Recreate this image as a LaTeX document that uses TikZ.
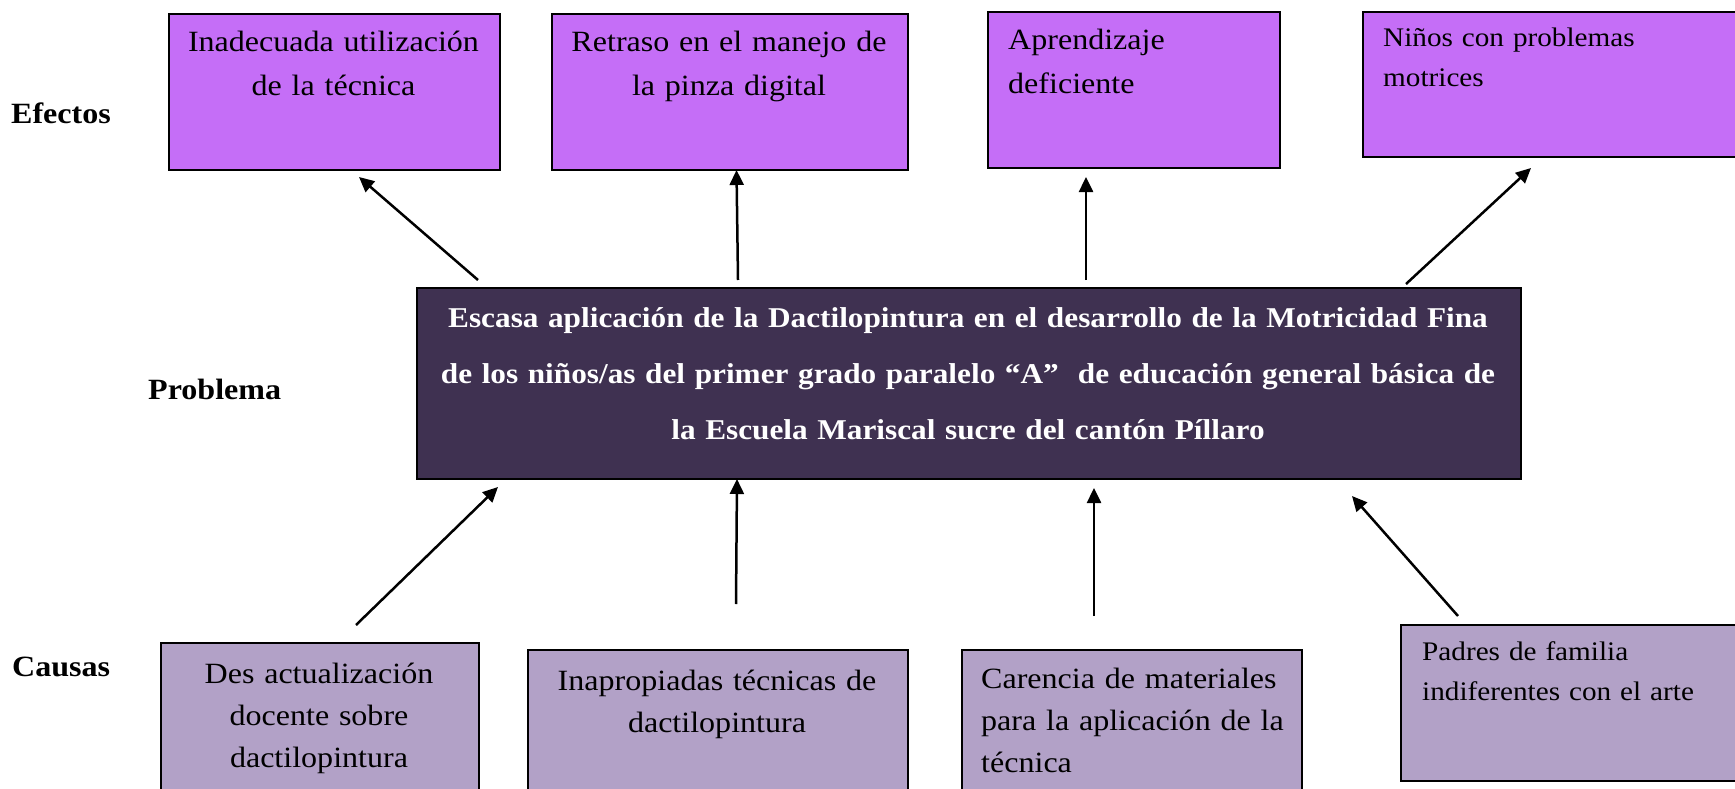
\documentclass[tikz,border=0pt]{standalone}
\usepackage{fontspec}
\setmainfont[FakeStretch=1.09]{Liberation Serif}
\usetikzlibrary{arrows.meta}
\definecolor{effc}{HTML}{C56EF7}
\definecolor{probc}{HTML}{3F3151}
\definecolor{causec}{HTML}{B2A1C7}
\begin{document}
\begin{tikzpicture}[x=1pt,y=-1pt,
  basebox/.style={draw=black, line width=2pt, inner sep=0pt, anchor=north west},
  effbox/.style={basebox, fill=effc},
  probbox/.style={basebox, fill=probc},
  causebox/.style={basebox, fill=causec},
  txt/.style={inner sep=0pt, font=\fontsize{29.4}{44}\selectfont},
  txtb/.style={inner sep=0pt, font=\fontsize{29.4}{42}\selectfont},
  txts/.style={inner sep=0pt, font=\fontsize{26.8}{40}\selectfont},
  lbl/.style={inner sep=0pt, anchor=base west, font=\fontsize{29.4}{36}\selectfont\bfseries},
  arr/.style={line width=2.5pt, -{Triangle[length=15pt,width=14pt]}}]
\useasboundingbox (0,0) rectangle (1735,789);
\clip (0,0) rectangle (1735,789);
\fill[white] (0,0) rectangle (1735,789);

% effect boxes
\node[effbox, minimum width=331pt, minimum height=156pt] (e1) at (168,13) {};
\node[effbox, minimum width=356pt, minimum height=156pt] (e2) at (551,13) {};
\node[effbox, minimum width=292pt, minimum height=156pt] (e3) at (987,11) {};
\node[effbox, minimum width=380pt, minimum height=145pt] (e4) at (1362,11) {};
\node[txt, text width=330pt, align=center, anchor=base] (te1) at (333.5,52) {Inadecuada utilización\\de la técnica};
\node[txt, text width=350pt, align=center, anchor=base] (te2) at (729,52) {Retraso en el manejo de\\la pinza digital};
\node[txt, text width=260pt, align=left, anchor=base west] (te3) at (1008,50) {Aprendizaje\\deficiente};
\node[txts, text width=320pt, align=left, anchor=base west] (te4) at (1383,47) {Niños con problemas\\motrices};

% problem box
\node[probbox, minimum width=1104pt, minimum height=191pt] (p) at (416,287) {};
\node[inner sep=0pt, text width=1100pt, align=center, anchor=base, text=white,
      font=\fontsize{28.7}{56}\selectfont\bfseries] (tp) at (968,327)
  {Escasa aplicación de la Dactilopintura en el desarrollo de la Motricidad Fina\\
   de los niños/as del primer grado paralelo “A”~ de educación general básica de\\
   la Escuela Mariscal sucre del cantón Píllaro};

% cause boxes
\node[causebox, minimum width=318pt, minimum height=170pt] (c1) at (160,642) {};
\node[causebox, minimum width=380pt, minimum height=170pt] (c2) at (527,649) {};
\node[causebox, minimum width=340pt, minimum height=170pt] (c3) at (961,649) {};
\node[causebox, minimum width=340pt, minimum height=156pt] (c4) at (1400,624) {};
\node[txtb, text width=310pt, align=center, anchor=base] (tc1) at (319,683) {Des actualización\\docente sobre\\dactilopintura};
\node[txtb, text width=370pt, align=center, anchor=base] (tc2) at (717,690) {Inapropiadas técnicas de\\dactilopintura};
\node[txtb, text width=320pt, align=left, anchor=base west] (tc3) at (981,688) {Carencia de materiales\\para la aplicación de la\\técnica};
\node[txts, text width=310pt, align=left, anchor=base west] (tc4) at (1422,660) {Padres de familia\\indiferentes con el arte};

% side labels
\node[lbl] (le) at (11,124) {Efectos};
\node[lbl] (lp) at (148,399) {Problema};
\node[lbl] (lc) at (12,676) {Causas};

% arrow end points
\coordinate (a1s) at (478,280); \coordinate (a1e) at (359,177);
\coordinate (a2s) at (738,280); \coordinate (a2e) at (736.5,170);
\coordinate (a3s) at (1086,280); \coordinate (a3e) at (1086,177);
\coordinate (a4s) at (1406,284); \coordinate (a4e) at (1531,168);
\coordinate (b1s) at (356,625); \coordinate (b1e) at (498,487);
\coordinate (b2s) at (736,604); \coordinate (b2e) at (737,479);
\coordinate (b3s) at (1094,616); \coordinate (b3e) at (1094,488);
\coordinate (b4s) at (1458,616); \coordinate (b4e) at (1352,496);

\draw[arr] (a1s) -- (a1e);
\draw[arr] (a2s) -- (a2e);
\draw[arr] (a3s) -- (a3e);
\draw[arr] (a4s) -- (a4e);
\draw[arr] (b1s) -- (b1e);
\draw[arr] (b2s) -- (b2e);
\draw[arr] (b3s) -- (b3e);
\draw[arr] (b4s) -- (b4e);
\end{tikzpicture}
\end{document}
